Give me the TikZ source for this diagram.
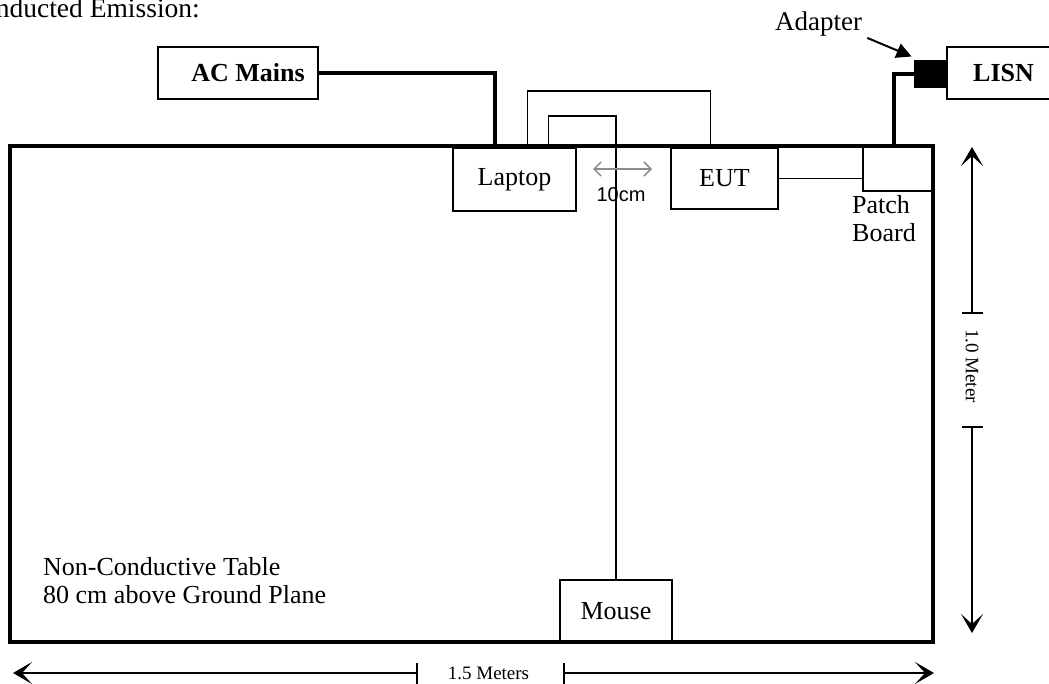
\documentclass[tikz,border=0pt]{standalone}
\usepackage{fontspec}
\setmainfont{Liberation Serif}
\newfontfamily\arialfont{Liberation Sans}
\usetikzlibrary{arrows.meta,calc}
\begin{document}
\begin{tikzpicture}[x=1pt,y=-1pt,
  box/.style={draw,line width=1.5pt,inner sep=0pt,font=\fontsize{26}{28}\selectfont},
  lbl/.style={inner sep=0pt,font=\fontsize{26}{28}\selectfont},
  dimlbl/.style={inner sep=0pt,font=\fontsize{19}{21}\selectfont},
  cable/.style={line width=1.5pt},
  pcable/.style={line width=4pt},
  dimline/.style={line width=1.5pt},
  bighead/.style={-{Stealth[length=19pt,width=22pt,inset=10pt]}},
]
\useasboundingbox (0,0) rectangle (1049,684);

% title
\node[lbl,anchor=base east,font=\fontsize{27.5}{30}\selectfont] (title) at (200,18) {Conducted Emission:};

% table
\node[draw,line width=3.5pt,minimum width=923pt,minimum height=496pt,inner sep=0pt] (table) at (471.5,394) {};
\node[lbl,align=left,anchor=north west] (tabletext) at (43,557) {Non-Conductive Table\\80 cm above Ground Plane};

% boxes
\node[box,minimum width=160pt,minimum height=52pt,font=\fontsize{26}{28}\selectfont\bfseries] (ac) at (238,73) {\hspace*{20pt}AC Mains};
\node[box,minimum width=123pt,minimum height=63pt] (laptop) at (514.5,179.5) {Laptop};
\node[box,minimum width=107pt,minimum height=61pt] (eut) at (724.5,178.5) {EUT};
\node[box,minimum width=70pt,minimum height=45pt] (patch) at (898,168.5) {};
\node[lbl,align=left,anchor=north west] (patchlbl) at (852,195) {Patch\\Board};
\node[draw,fill=black,line width=1pt,minimum width=32pt,minimum height=27pt,inner sep=0pt] (adapter) at (930,74.5) {};
\node[box,minimum width=113pt,minimum height=52pt,font=\fontsize{26}{28}\selectfont\bfseries] (lisn) at (1003.5,73) {LISN};
\node[box,minimum width=112pt,minimum height=62pt] (mouse) at (616,611) {Mouse};

% adapter label
\node[lbl,anchor=base west,font=\fontsize{27}{29}\selectfont] (adlbl) at (775,31) {Adapter};
\draw[line width=2pt,-{Triangle[length=15pt,width=15pt]}] ($(adlbl.south east)+(5,1)$) -- ($(adapter.north west)+(-2,-4)$);

% cables
\draw[pcable] (ac.east) -| ($(laptop.north west)+(43,0)$);
\draw[cable] ($(laptop.north west)+(75,0)$) -- ++(0,-56) -| ($(eut.north west)+(40,0)$);
\draw[cable] ($(laptop.north west)+(96,0)$) -- ++(0,-31) -| (mouse.north);
\draw[cable] (eut.east) -- (eut.east -| patch.west);
\draw[pcable] ($(patch.north)+(-4,0)$) |- (adapter.west);

% 10cm spacing
\coordinate (g1) at (593,169);
\coordinate (g2) at (652,169);
\draw[line width=1.5pt,color=black!45,{Straight Barb[length=7pt,width=14pt]}-{Straight Barb[length=7pt,width=14pt]}] (g1) -- (g2);
\node[inner sep=0pt,anchor=base,font=\arialfont\fontsize{20}{22}\selectfont] (ten) at (621,202) {10cm};

% vertical dimension
\coordinate (vtop) at (972,147);
\coordinate (vt1) at (972,313);
\coordinate (vt2) at (972,427);
\coordinate (vbot) at (972,633);
\draw[dimline,bighead] (vt1) -- (vtop);
\draw[dimline,bighead] (vt2) -- (vbot);
\draw[dimline] ($(vt1)+(-10,0)$) -- ($(vt1)+(11,0)$);
\draw[dimline] ($(vt2)+(-10,0)$) -- ($(vt2)+(11,0)$);
\node[dimlbl,rotate=-90] (vlbl) at (972,366) {1.0 Meter};

% horizontal dimension
\coordinate (hl) at (13,673);
\coordinate (ht1) at (417,673);
\coordinate (ht2) at (564,673);
\coordinate (hr) at (934,673);
\draw[dimline,bighead] (ht1) -- (hl);
\draw[dimline,bighead] (ht2) -- (hr);
\draw[dimline] ($(ht1)+(0,-10)$) -- ($(ht1)+(0,12)$);
\draw[dimline] ($(ht2)+(0,-10)$) -- ($(ht2)+(0,12)$);
\node[dimlbl,anchor=base] (hlbl) at (488.5,679) {1.5 Meters};
\end{tikzpicture}
\end{document}
